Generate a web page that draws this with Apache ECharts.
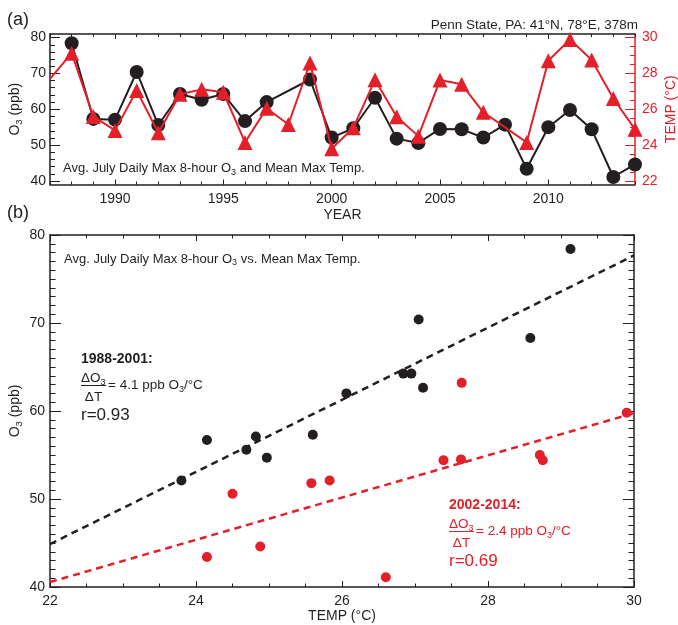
<!DOCTYPE html>
<html>
<head>
<meta charset="utf-8">
<script src="https://cdn.jsdelivr.net/npm/echarts@6/dist/echarts.min.js"></script>
<style>
  html, body { margin: 0; padding: 0; background: #fff; }
  #chart { width: 678px; height: 625px; }
</style>
</head>
<body>
<div id="chart"></div>
<script>
// Yearly July averages at the Penn State site
const years = [1987, 1988, 1989, 1990, 1991, 1992, 1993, 1994, 1995, 1996, 1997, 1998, 1999, 2000,
               2001, 2002, 2003, 2004, 2005, 2006, 2007, 2008, 2009, 2010, 2011, 2012, 2013, 2014];
// average daily max 8-hour O3 (ppb); null where no value
const ozone = [null, 78.4, 57.3, 57.1, 70.4, 55.6, 64.25, 62.65, 64.25, 56.7, 62.0, null, 68.3, 52.1,
               54.7, 63.2, 51.8, 50.6, 54.5, 54.4, 52.1, 55.7, 43.4, 55.0, 59.8, 54.4, 41.1, 44.6];
// mean daily max temperature (°C); null where no value
const temperature = [27.7, 29.13, 25.6, 24.82, 27.05, 24.69, 26.84, 27.11, 26.95, 24.15, 26.06, 25.15, 28.58, 23.8,
                     24.97, 27.64, 25.58, 24.5, 27.63, 27.39, 25.83, null, 24.15, 28.71, 29.9, 28.75, 26.6, 24.88];

// two periods compared in panel (b)
const periodNames = ['1988-2001', '2002-2014'];
const periodStart = [1988, 2002];
const periodEnd = [2001, 2014];
const periodSlope = [4.1, 2.4];      // ppb O3 per °C
const periodR = ['0.93', '0.69'];

// tick labels
const yearTicks = [1990, 1995, 2000, 2005, 2010];
const ozoneTicks = [40, 50, 60, 70, 80];
const tempTicks = [22, 24, 26, 28, 30];

const FONT = '"Liberation Sans", Arial, Helvetica, sans-serif';
const INK = '#231f20';
const RED = '#e3202a';
const periodColor = [INK, RED];

function steps(a, b, step) {
  const out = [];
  for (let v = a; v <= b + 1e-9; v += step) out.push(+v.toFixed(3));
  return out;
}

// subscript token, dropped below the baseline of the surrounding text
const subRich = (size, color) => ({
  sub: { fontSize: size, fontFamily: FONT, color: color, verticalAlign: 'bottom', lineHeight: 8 }
});

// ---------- axes ----------
function tickAxis(o) {
  const color = o.color || INK;
  const ax = {
    type: 'value',
    gridIndex: o.grid,
    position: o.position,
    min: o.min, max: o.max,
    splitLine: { show: false },
    axisLine: { show: o.line !== false, onZero: false, lineStyle: { color: color, width: 1.5 } },
    axisTick: { show: true, inside: true, length: o.tick, lineStyle: { color: color, width: 1 } },
    axisLabel: {
      show: !!o.labels, color: color, fontSize: 14, fontFamily: FONT, margin: o.margin || 6,
      formatter: v => String(v)
    }
  };
  if (o.interval != null) ax.interval = o.interval;
  if (o.custom) { ax.axisTick.customValues = o.custom; ax.axisLabel.customValues = o.custom; }
  if (o.minor) ax.minorTick = { show: true, splitNumber: o.minor, length: o.minorLen, lineStyle: { color: color, width: 1 } };
  if (o.name) {
    ax.name = o.name;
    ax.nameLocation = 'middle';
    ax.nameGap = o.nameGap;
    ax.nameMoveOverlap = false;
    ax.nameTextStyle = { color: color, fontSize: 14, lineHeight: 18, fontFamily: FONT, rich: subRich(9.5, color) };
  }
  return ax;
}

const xAxes = [
  // panel (a)
  tickAxis({ grid: 0, position: 'bottom', min: 1987, max: 2014, custom: yearTicks, tick: 5, labels: true, margin: 8, name: 'YEAR', nameGap: 21.5 }),
  tickAxis({ grid: 0, position: 'bottom', min: 1987, max: 2014, interval: 1, tick: 3, line: false }),
  tickAxis({ grid: 0, position: 'top', min: 1987, max: 2014, custom: yearTicks, tick: 5 }),
  tickAxis({ grid: 0, position: 'top', min: 1987, max: 2014, interval: 1, tick: 3, line: false }),
  // panel (b)
  tickAxis({ grid: 1, position: 'bottom', min: 22, max: 30, interval: 2, tick: 6, minor: 4, minorLen: 3.5, labels: true, margin: 7, name: 'TEMP (°C)', nameGap: 20 }),
  tickAxis({ grid: 1, position: 'top', min: 22, max: 30, interval: 2, tick: 6, minor: 4, minorLen: 3.5 })
];

const yAxes = [
  // panel (a): ozone on the left, temperature on the right (same 5 ppb per °C scale)
  tickAxis({ grid: 0, position: 'left', min: 39, max: 81, custom: ozoneTicks, tick: 10, labels: true, margin: 4, name: 'O{sub|3} (ppb)', nameGap: 26 }),
  tickAxis({ grid: 0, position: 'left', min: 39, max: 81, custom: steps(40, 80, 2), tick: 5, line: false }),
  tickAxis({ grid: 0, position: 'right', min: 21.8, max: 30.2, custom: tempTicks, tick: 10, labels: true, margin: 7, color: RED, name: 'TEMP (°C)', nameGap: 27 }),
  tickAxis({ grid: 0, position: 'right', min: 21.8, max: 30.2, custom: steps(22, 30, 0.5), tick: 5, line: false, color: RED }),
  // panel (b)
  tickAxis({ grid: 1, position: 'left', min: 40, max: 80, interval: 10, tick: 11, minor: 10, minorLen: 5.5, labels: true, margin: 5, name: 'O{sub|3} (ppb)', nameGap: 26 }),
  tickAxis({ grid: 1, position: 'right', min: 40, max: 80, interval: 10, tick: 11, minor: 10, minorLen: 5.5 })
];

// ---------- series ----------
const ozoneLine = years.map((y, i) => [y, ozone[i]]).filter(d => d[1] != null);
const tempLine = years.map((y, i) => [y, temperature[i]]).filter(d => d[1] != null)
  .map(d => d[0] === years[0] ? { value: d, symbol: 'none' } : d);

const series = [
  {
    type: 'line', xAxisIndex: 0, yAxisIndex: 0, data: ozoneLine,
    symbol: 'circle', symbolSize: 14, z: 2,
    lineStyle: { color: INK, width: 2 }, itemStyle: { color: INK, opacity: 1 }
  },
  {
    type: 'line', xAxisIndex: 0, yAxisIndex: 2, data: tempLine,
    symbol: 'triangle', symbolSize: 15, z: 3,
    lineStyle: { color: RED, width: 2 }, itemStyle: { color: RED, opacity: 1 }
  }
];

periodNames.forEach((name, p) => {
  const pts = [];
  years.forEach((y, i) => {
    if (y >= periodStart[p] && y <= periodEnd[p] && ozone[i] != null && temperature[i] != null) {
      pts.push([temperature[i], ozone[i]]);
    }
  });
  // fit line with the stated slope through the period's mean point
  const mx = pts.reduce((s, d) => s + d[0], 0) / pts.length;
  const my = pts.reduce((s, d) => s + d[1], 0) / pts.length;
  const fit = x => my + periodSlope[p] * (x - mx);
  series.push({
    type: 'line', xAxisIndex: 4, yAxisIndex: 4, data: [[22, fit(22)], [30, fit(30)]],
    symbol: 'none', silent: true, z: 2,
    lineStyle: { color: periodColor[p], width: 2.5, type: [7, 5] }
  });
  series.push({
    type: 'scatter', xAxisIndex: 4, yAxisIndex: 4, data: pts, name: name,
    symbol: 'circle', symbolSize: 10, z: 3,
    itemStyle: { color: periodColor[p], opacity: 1 }
  });
});

// ---------- text annotations ----------
function txt(x, y, text, size, color, extra) {
  return {
    type: 'text', x: x, y: y, z: 10,
    style: Object.assign({
      text: text, fill: color || INK, fontSize: size, fontFamily: FONT,
      lineHeight: Math.round(size * 1.3),
      textVerticalAlign: 'middle', rich: subRich(Math.round(size * 0.68), color || INK)
    }, extra || {})
  };
}

const graphics = [
  txt(7, 20, '(a)', 18),
  txt(7, 213, '(b)', 18),
  txt(638, 25, 'Penn State, PA: 41°N, 78°E, 378m', 13.5, INK, { textAlign: 'right' }),
  txt(63, 168.5, 'Avg. July Daily Max 8-hour O{sub|3} and Mean Max Temp.', 13),
  txt(64, 259, 'Avg. July Daily Max 8-hour O{sub|3} vs. Mean Max Temp.', 13)
];

const annotX = [81, 449];
const annotY = [359, 505];
periodNames.forEach((name, p) => {
  const x = annotX[p], y = annotY[p], c = periodColor[p];
  graphics.push(txt(x, y, name + ':', 14, c, { fontWeight: 'bold' }));
  graphics.push(txt(x, y + 19.5, 'ΔO{sub|3}', 13.5, c));
  graphics.push({ type: 'line', z: 10, shape: { x1: x, y1: y + 26.5, x2: x + 25, y2: y + 26.5 }, style: { stroke: c, lineWidth: 1 } });
  graphics.push(txt(x + 12.5, y + 38, 'ΔT', 13.5, c, { textAlign: 'center' }));
  graphics.push(txt(x + 27, y + 26.5, '= ' + periodSlope[p].toFixed(1) + ' ppb O{sub|3}/°C', 13.5, c));
  graphics.push(txt(x, y + 56, 'r=' + periodR[p], 17, c));
});

const chart = echarts.init(document.getElementById('chart'), null, { renderer: 'canvas' });
chart.setOption({
  animation: false,
  backgroundColor: '#fff',
  textStyle: { fontFamily: FONT },
  grid: [
    { left: 50, top: 34, width: 585, height: 150.5, containLabel: false, outerBoundsMode: 'none' },
    { left: 50, top: 235, width: 584, height: 352, containLabel: false, outerBoundsMode: 'none' }
  ],
  xAxis: xAxes,
  yAxis: yAxes,
  series: series,
  graphic: { elements: graphics }
});
</script>
</body>
</html>
